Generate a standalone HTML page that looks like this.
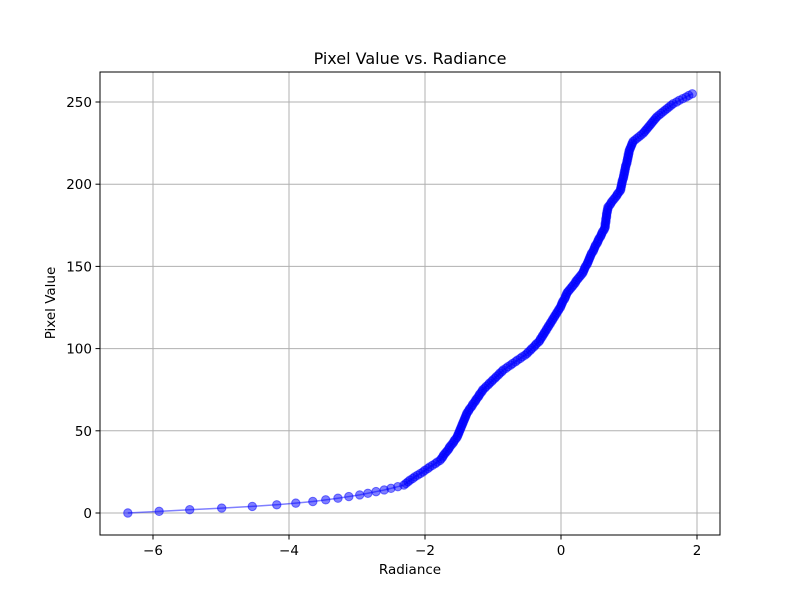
<!DOCTYPE html>
<html>
<head>
<meta charset="utf-8">
<style>
  body { margin: 0; background: #fff; }
  svg { display: block; font-family: "DejaVu Sans", "Liberation Sans", sans-serif; }
</style>
</head>
<body>
<svg id="chart" width="800" height="600" viewBox="0 0 800 600" xmlns="http://www.w3.org/2000/svg">
  <rect width="800" height="600" fill="#fff"/>
  <g id="grid"></g>
  <g id="series"></g>
  <rect x="100" y="72" width="620" height="463" fill="none" stroke="#000" stroke-width="1"/>
  <g id="axes"></g>
  <text x="410" y="64" text-anchor="middle" font-size="16">Pixel Value vs. Radiance</text>
  <text x="410" y="574" text-anchor="middle" font-size="13.5">Radiance</text>
  <text x="0" y="0" transform="translate(55,303) rotate(-90)" text-anchor="middle" font-size="13.5">Pixel Value</text>
</svg>
<script>
const xTicks = [-6, -4, -2, 0, 2];
const yTicks = [0, 50, 100, 150, 200, 250];
// radiance for pixel values 0..255 (index = pixel value)
const radiance = [
-6.37,-5.91,-5.46,-4.99,-4.54,-4.18,-3.90,-3.65,-3.46,-3.28,
-3.12,-2.96,-2.84,-2.72,-2.60,-2.50,-2.40,-2.31,-2.28,-2.25,
-2.22,-2.18,-2.15,-2.11,-2.07,-2.03,-2.00,-1.96,-1.93,-1.89,
-1.85,-1.82,-1.78,-1.76,-1.74,-1.73,-1.71,-1.69,-1.67,-1.65,
-1.64,-1.62,-1.60,-1.58,-1.57,-1.55,-1.53,-1.52,-1.51,-1.50,
-1.49,-1.48,-1.47,-1.46,-1.45,-1.44,-1.43,-1.42,-1.41,-1.40,
-1.39,-1.38,-1.36,-1.35,-1.33,-1.31,-1.30,-1.28,-1.26,-1.25,
-1.23,-1.21,-1.20,-1.18,-1.16,-1.15,-1.12,-1.10,-1.07,-1.05,
-1.02,-1.00,-0.97,-0.95,-0.92,-0.90,-0.87,-0.85,-0.81,-0.78,
-0.74,-0.71,-0.67,-0.64,-0.60,-0.57,-0.53,-0.50,-0.48,-0.45,
-0.43,-0.40,-0.38,-0.36,-0.33,-0.31,-0.30,-0.28,-0.27,-0.25,
-0.24,-0.22,-0.21,-0.19,-0.18,-0.16,-0.15,-0.13,-0.12,-0.10,
-0.09,-0.07,-0.06,-0.04,-0.03,-0.01,0.00,0.01,0.02,0.03,
0.05,0.06,0.07,0.08,0.09,0.11,0.13,0.15,0.17,0.19,
0.21,0.22,0.24,0.26,0.28,0.30,0.32,0.33,0.34,0.35,
0.36,0.38,0.39,0.40,0.41,0.42,0.43,0.44,0.45,0.47,
0.48,0.49,0.50,0.51,0.53,0.54,0.55,0.56,0.58,0.59,
0.60,0.61,0.63,0.64,0.65,0.65,0.65,0.66,0.66,0.66,
0.67,0.67,0.67,0.68,0.68,0.69,0.69,0.71,0.73,0.74,
0.76,0.78,0.80,0.82,0.83,0.85,0.87,0.88,0.88,0.89,
0.89,0.90,0.90,0.91,0.92,0.92,0.93,0.93,0.94,0.94,
0.95,0.95,0.96,0.97,0.97,0.98,0.98,0.99,0.99,1.00,
1.00,1.01,1.02,1.03,1.04,1.05,1.06,1.09,1.12,1.15,
1.18,1.21,1.23,1.25,1.27,1.29,1.31,1.33,1.35,1.37,
1.39,1.41,1.44,1.47,1.50,1.53,1.56,1.59,1.62,1.65,
1.70,1.74,1.79,1.84,1.88,1.93];

const NS = "http://www.w3.org/2000/svg";
const X = v => 561 + v * 68;
const Y = v => 513 - v * 1.644;
const grid = document.getElementById('grid');
const axes = document.getElementById('axes');
const series = document.getElementById('series');

function mk(tag, attrs, parent) {
  const e = document.createElementNS(NS, tag);
  for (const k in attrs) e.setAttribute(k, attrs[k]);
  parent.appendChild(e);
  return e;
}

xTicks.forEach(t => {
  const gl = mk('line', {x1: X(t), x2: X(t), y1: 72, y2: 535, stroke: '#b0b0b0', 'stroke-width': 1}, grid);
  
  
  const tk = mk('line', {x1: X(t), x2: X(t), y1: 535, y2: 539.5, stroke: '#000', 'stroke-width': 1}, axes);
  
  
  const lb = mk('text', {x: X(t), y: 555, 'text-anchor': 'middle', 'font-size': 13.5}, axes);
  lb.textContent = t < 0 ? '\u2212' + Math.abs(t) : String(t);
  
  
});
yTicks.forEach(t => {
  const gl = mk('line', {x1: 100, x2: 720, y1: Y(t), y2: Y(t), stroke: '#b0b0b0', 'stroke-width': 1}, grid);
  
  
  const tk = mk('line', {x1: 95.5, x2: 100, y1: Y(t), y2: Y(t), stroke: '#000', 'stroke-width': 1}, axes);
  
  
  const lb = mk('text', {x: 92, y: Y(t) + 5, 'text-anchor': 'end', 'font-size': 13.5}, axes);
  lb.textContent = String(t);
  
  
});

const pts = radiance.map((r, i) => X(r) + ',' + Y(i)).join(' ');
const line = mk('polyline', {points: pts, fill: 'none', stroke: 'rgba(0,0,255,0.5)', 'stroke-width': 1.5}, series);


radiance.forEach((r, i) => {
  const c = mk('circle', {cx: X(r), cy: Y(i), r: 4.2, fill: 'rgba(0,0,255,0.5)', stroke: 'rgba(0,0,255,0.5)', 'stroke-width': 1}, series);
  
  
});
</script>
</body>
</html>
